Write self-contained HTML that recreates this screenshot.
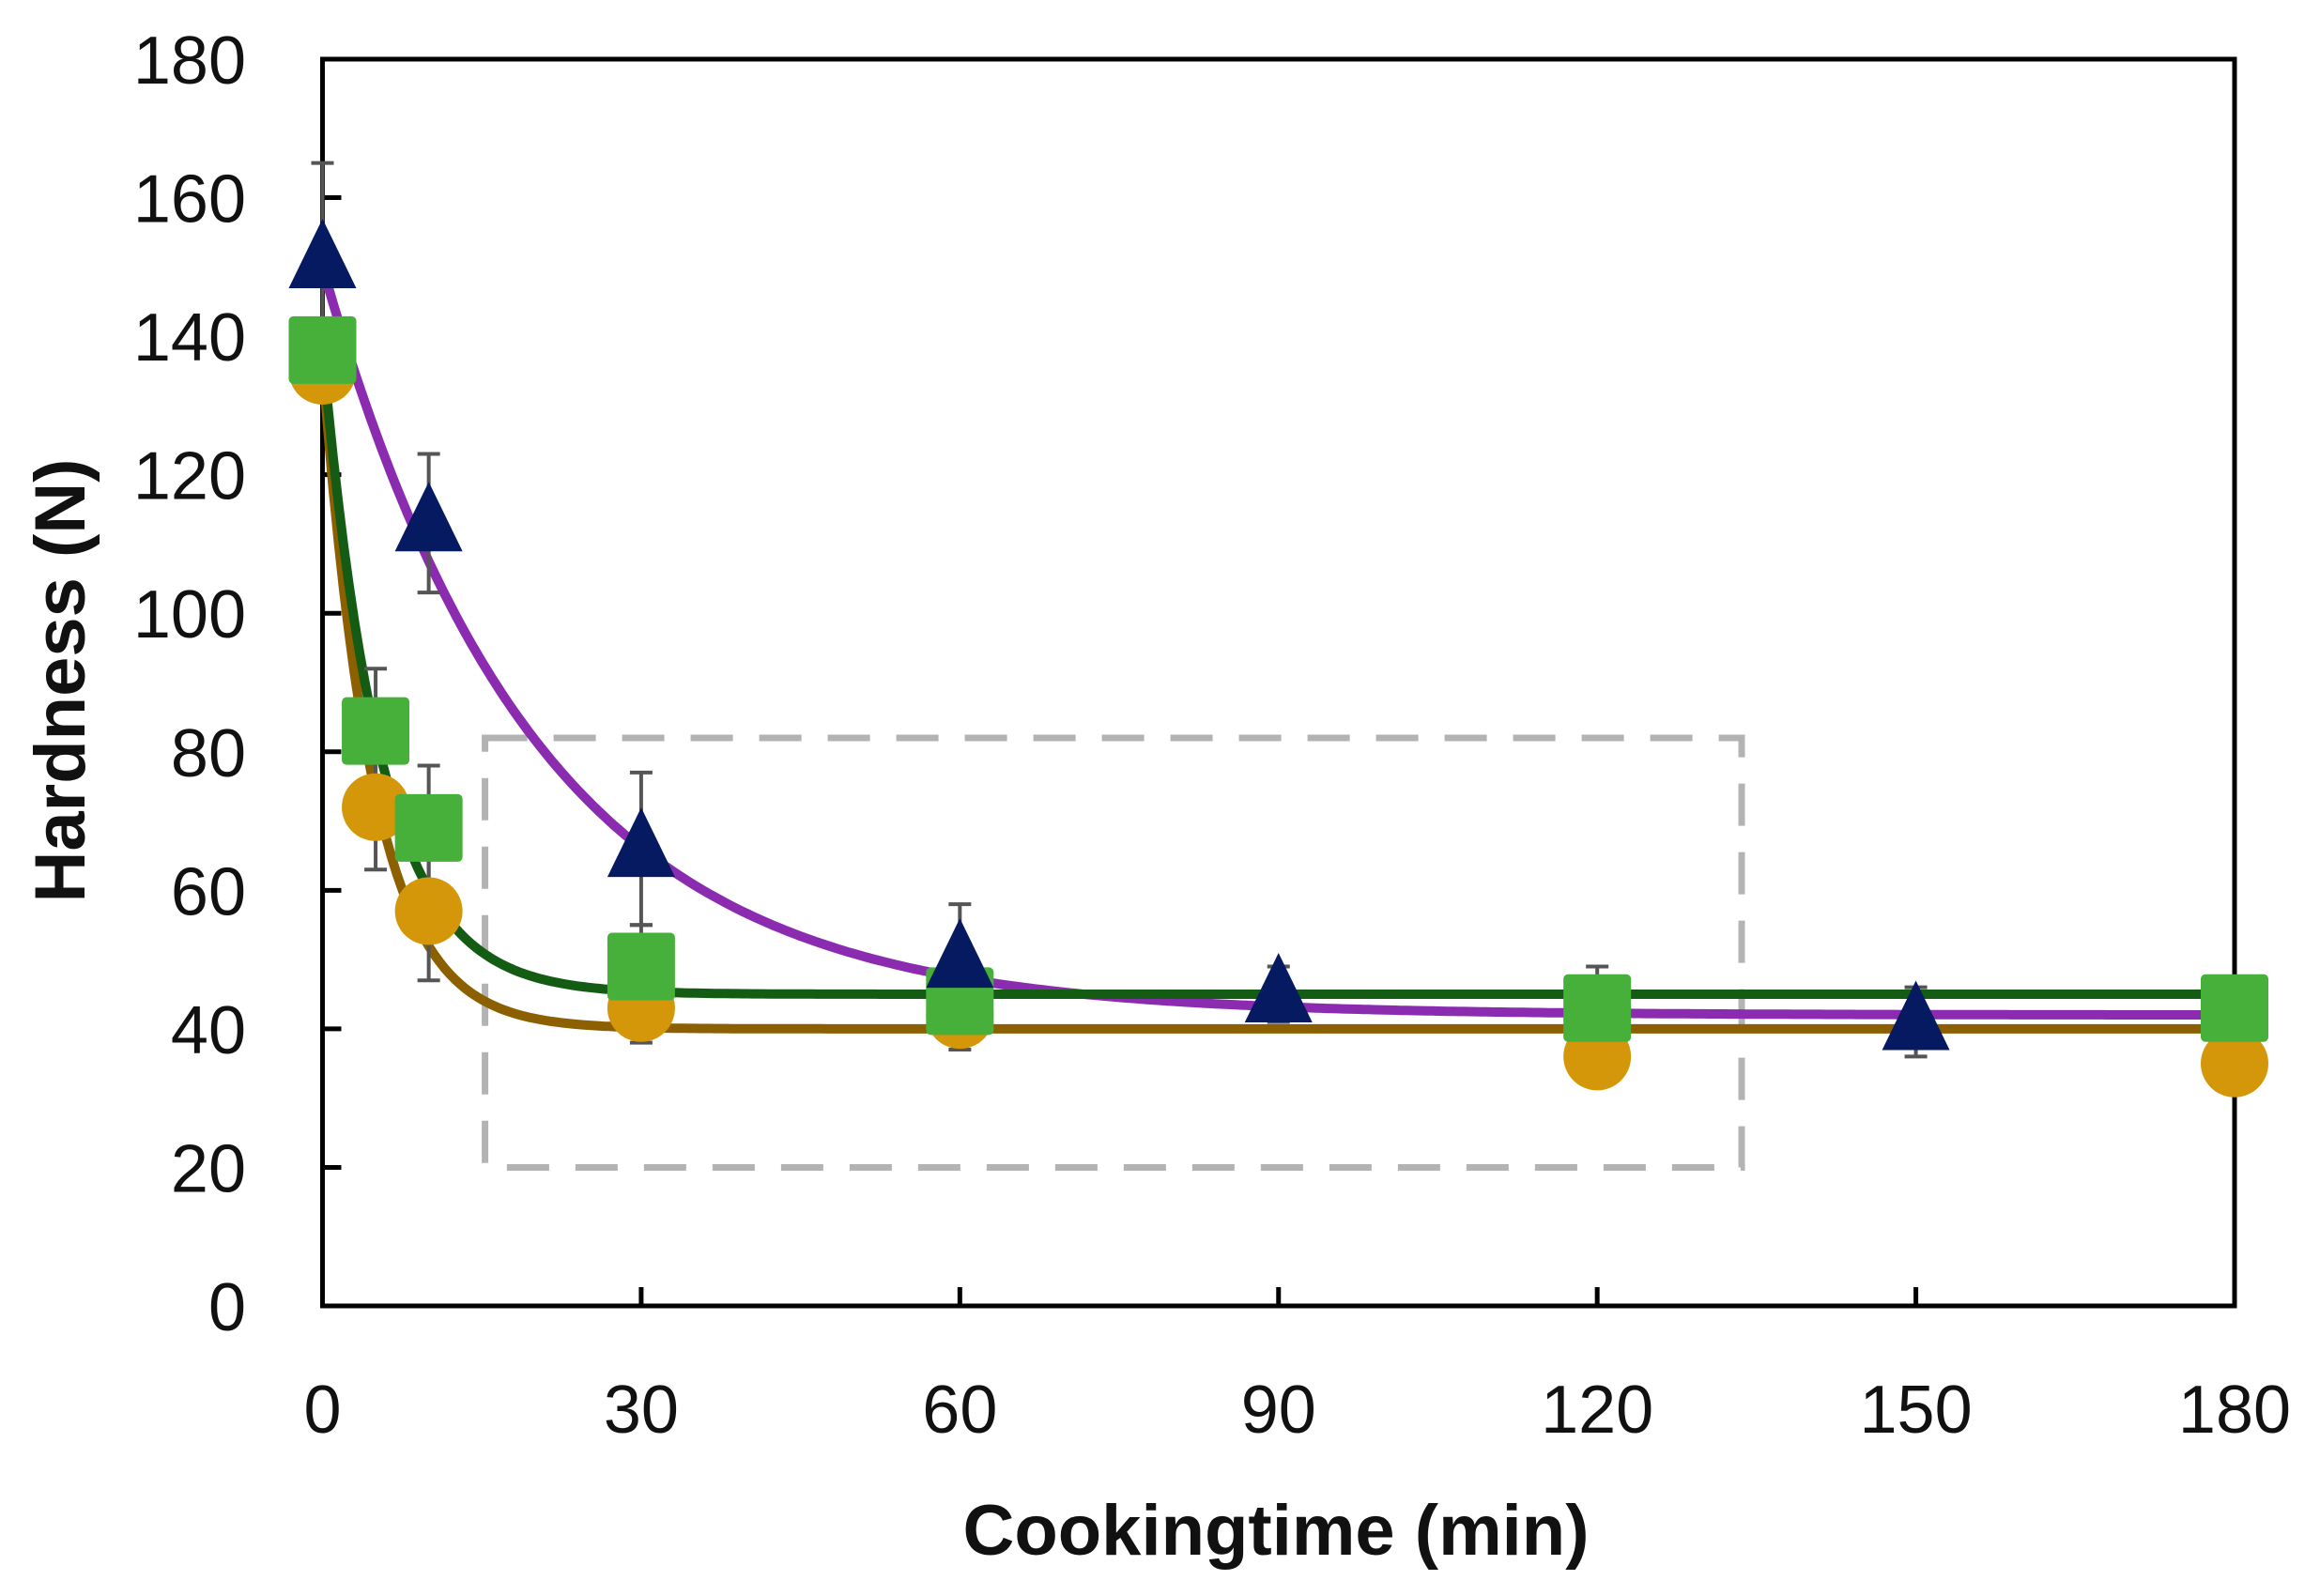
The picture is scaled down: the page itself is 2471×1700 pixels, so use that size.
<!DOCTYPE html>
<html><head><meta charset="utf-8"><style>
html,body{margin:0;padding:0;background:#fff;}
svg{display:block;font-family:"Liberation Sans","DejaVu Sans",sans-serif;}
</style></head><body>
<svg id="chart" width="2471" height="1700" viewBox="0 0 2471 1700" xmlns="http://www.w3.org/2000/svg">
<rect width="2471" height="1700" fill="#fff"/>
<g id="axes"></g>
<g id="fits"></g>
<g id="errs"></g>
<g id="marks"></g>
<text x="0" y="0" transform="translate(90,725) rotate(-90)" text-anchor="middle" font-size="76" font-weight="bold" fill="#111">Hardness (N)</text>
<text x="1359" y="1656" text-anchor="middle" font-size="76" font-weight="bold" fill="#111">Cookingtime (min)</text>
</svg>
<script>
const xTicks=[0,30,60,90,120,150,180];
const yTicks=[0,20,40,60,80,100,120,140,160,180];
const triT=[0,10,30,60,90,150];
const triV=[151,113,66,50,45,41];
const triE=[14,10,11,8,4,5];
const sqT=[0,5,10,30,60,120,180];
const sqV=[138,83,69,49,44,43,43];
const sqE=[3,9,9,6,5,6,4];
const ciT=[0,5,10,30,60,120,180];
const ciV=[135,72,57,43,42,36,35];
const ciE=[3,9,10,5,5,4,3];
const fitPurple=[42,108,20];
const fitGreen=[45,93,5.5];
const fitOrange=[40,96,4.8];
const boxX=[15.3,133.6];
const boxY=[20,82];
const NS='http://www.w3.org/2000/svg';
const X0=343.5,X1=2380,Y0=1391,Y1=63;
const sx=t=>X0+t*(X1-X0)/180;
const sy=v=>Y0-v*(Y0-Y1)/180;
function mk(tag,attrs,parent){const e=document.createElementNS(NS,tag);for(const k in attrs)e.setAttribute(k,attrs[k]);document.getElementById(parent).appendChild(e);return e;}
let fr=mk('rect',{x:X0,y:Y1,width:X1-X0,height:Y0-Y1,fill:'none',stroke:'#000','stroke-width':5},'axes');


xTicks.forEach(t=>{
 let l=mk('line',{x1:sx(t),x2:sx(t),y1:Y0,y2:Y0-20,stroke:'#000','stroke-width':5},'axes');
 
 
 let tx=mk('text',{x:sx(t),y:1526,'text-anchor':'middle','font-size':72,fill:'#111'},'axes');
 tx.textContent=t;
 
 
});
yTicks.forEach(v=>{
 let l=mk('line',{x1:X0,x2:X0+20,y1:sy(v),y2:sy(v),stroke:'#000','stroke-width':5},'axes');
 
 
 let tx=mk('text',{x:262,y:sy(v)+26,'text-anchor':'end','font-size':72,fill:'#111'},'axes');
 tx.textContent=v;
 
 
});
let bx=mk('rect',{x:sx(boxX[0]),y:sy(boxY[1]),width:sx(boxX[1])-sx(boxX[0]),height:sy(boxY[0])-sy(boxY[1]),fill:'none',stroke:'#b3b3b3','stroke-width':7,'stroke-dasharray':'45 28'},'axes');


function fit(p,color,name){
 let d='';for(let t=0;t<=180;t+=0.5){const v=p[0]+p[1]*Math.exp(-t/p[2]);d+=(t?'L':'M')+sx(t).toFixed(1)+','+sy(v).toFixed(1);}
 let e=mk('path',{d:d,fill:'none',stroke:color,'stroke-width':10},'fits');
 
 
}
fit(fitOrange,'#8c6000','fit-curve-circle');
fit(fitPurple,'#8a2bb0','fit-curve-triangle');
fit(fitGreen,'#145c14','fit-curve-square');
function errs(T,V,E){T.forEach((t,i)=>{const x=sx(t),a=sy(V[i]+E[i]),b=sy(V[i]-E[i]);
 let e=mk('path',{d:`M${x},${a}L${x},${b}M${x-12},${a}L${x+12},${a}M${x-12},${b}L${x+12},${b}`,stroke:'#555','stroke-width':4,fill:'none'},'errs');
 
 });}
errs(triT,triV,triE);errs(sqT,sqV,sqE);errs(ciT,ciV,ciE);
ciT.forEach((t,i)=>{let c=mk('circle',{cx:sx(t),cy:sy(ciV[i]),r:36,fill:'#d4970a'},'marks');
 
 });
sqT.forEach((t,i)=>{let r=mk('rect',{x:sx(t)-36,y:sy(sqV[i])-36,width:72,height:72,rx:5,fill:'#46b03a'},'marks');
 
 });
triT.forEach((t,i)=>{const x=sx(t),y=sy(triV[i]);
 let p=mk('polygon',{points:`${x},${y-44} ${x-36},${y+30} ${x+36},${y+30}`,fill:'#061a62'},'marks');
 
 });
</script>
</body></html>
